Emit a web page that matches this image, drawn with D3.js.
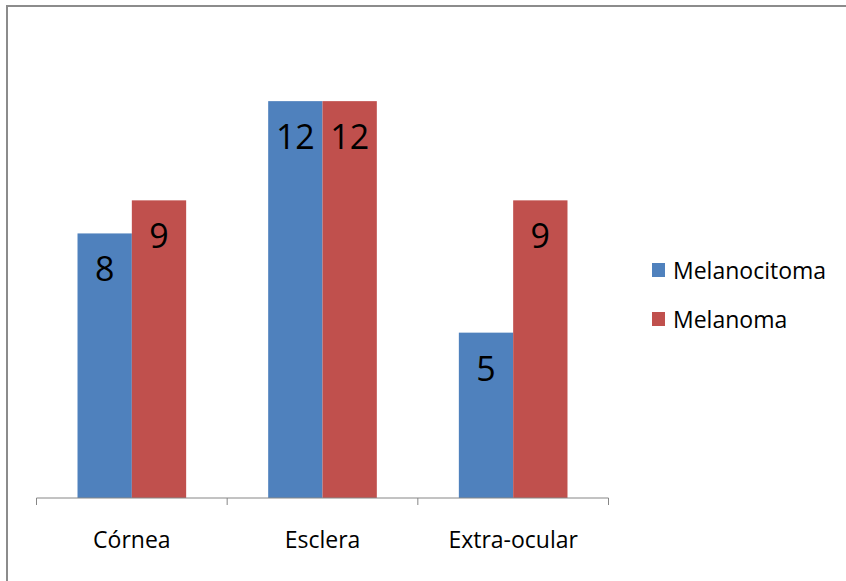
<!DOCTYPE html>
<html>
<head>
<meta charset="utf-8">
<script src="https://cdn.jsdelivr.net/npm/d3@7"></script>
<style>
  body { margin: 0; background: #fff; }
  svg text { font-family: "Open Sans", sans-serif; fill: #000; }
</style>
</head>
<body>
<svg id="chart" width="846" height="581"></svg>
<script>
// Chart data
const categories = ['Córnea', 'Esclera', 'Extra-ocular'];
const seriesNames = ['Melanocitoma', 'Melanoma'];
const melanocitoma = [8, 12, 5];
const melanoma = [9, 12, 9];
const seriesColors = ['#4F81BD', '#C0504D'];

const svg = d3.select('#chart');

// Frame lines (top and left only visible)
svg.append('line').attr('x1', 7).attr('x2', 846).attr('y1', 6).attr('y2', 6)
    .attr('stroke', '#8c8c8c').attr('stroke-width', 2);
svg.append('line').attr('x1', 7).attr('x2', 7).attr('y1', 5).attr('y2', 581)
    .attr('stroke', '#8c8c8c').attr('stroke-width', 2);

// Plot area
const plot = { left: 36.5, right: 608.5, top: 35, bottom: 498 };

const x = d3.scaleBand()
    .domain(categories)
    .range([plot.left, plot.right])
    .padding(0);

const xInner = d3.scaleBand()
    .domain(seriesNames)
    .range([0, x.bandwidth()])
    .paddingOuter(0.755)
    .paddingInner(0);

const y = d3.scaleLinear()
    .domain([0, 14])
    .range([plot.bottom, plot.top]);

const rows = categories.map((c, i) => ({
    category: c,
    values: [melanocitoma[i], melanoma[i]]
}));

const groups = svg.selectAll('g.cat')
    .data(rows)
    .enter()
    .append('g')
    .attr('class', 'cat')
    .attr('transform', d => `translate(${x(d.category)},0)`);

groups.selectAll('rect')
    .data(d => d.values.map((v, j) => ({ name: seriesNames[j], value: v, color: seriesColors[j] })))
    .enter()
    .append('rect')
    .attr('x', d => xInner(d.name))
    .attr('y', d => y(d.value))
    .attr('width', xInner.bandwidth())
    .attr('height', d => y(0) - y(d.value))
    .attr('fill', d => d.color);

groups.selectAll('text.val')
    .data(d => d.values.map((v, j) => ({ name: seriesNames[j], value: v })))
    .enter()
    .append('text')
    .attr('class', 'val')
    .attr('x', d => xInner(d.name) + xInner.bandwidth() / 2)
    .attr('y', d => y(d.value) + 48)
    .attr('text-anchor', 'middle')
    .attr('font-size', '34px')
    .text(d => d.value);

// X axis
const xAxis = svg.append('g')
    .attr('transform', `translate(0,${plot.bottom})`)
    .call(d3.axisBottom(x).tickSize(0).tickPadding(0));
xAxis.select('.domain').attr('stroke', '#868686').attr('d', `M${plot.left},0H${plot.right}`);
xAxis.selectAll('.tick text')
    .attr('y', 50)
    .attr('dy', 0)
    .attr('font-size', '23px')
    .attr('font-family', '"Open Sans", sans-serif')
    .attr('fill', '#1a1a1a');

// Category boundary ticks
const boundaries = categories.map(c => x(c)).concat([x(categories[categories.length - 1]) + x.bandwidth()]);
svg.selectAll('line.btick')
    .data(boundaries)
    .enter()
    .append('line')
    .attr('class', 'btick')
    .attr('x1', d => d).attr('x2', d => d)
    .attr('y1', plot.bottom).attr('y2', plot.bottom + 7)
    .attr('stroke', '#868686');

// Legend
const legend = svg.append('g').attr('transform', 'translate(652,263)');
seriesNames.forEach((name, i) => {
    const row = legend.append('g').attr('transform', `translate(0,${i * 49})`);
    row.append('rect').attr('width', 13).attr('height', 14).attr('fill', seriesColors[i]);
    row.append('text').attr('x', 21).attr('y', 15.5).attr('font-size', '23px')
        .attr('fill', '#1a1a1a').text(name);
});
</script>
</body>
</html>
